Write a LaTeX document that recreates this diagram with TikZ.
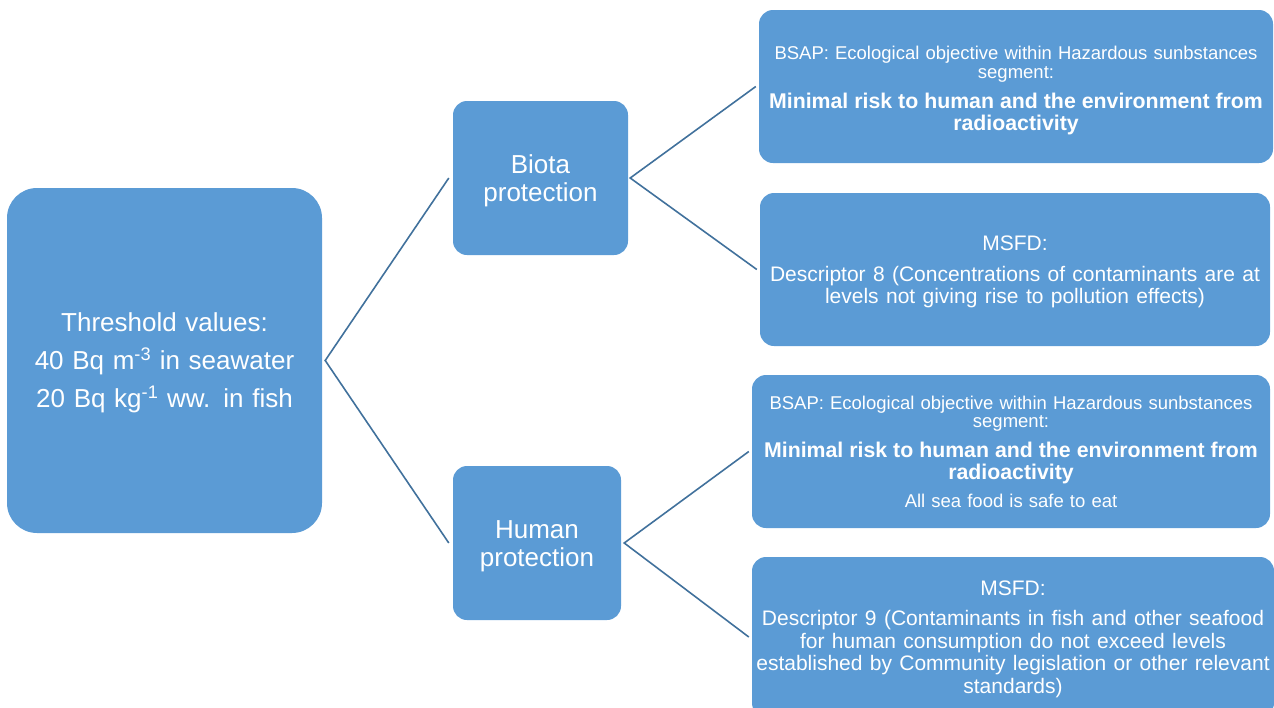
\documentclass[tikz,border=0pt]{standalone}
\usepackage{fontspec}
\setmainfont{Liberation Sans}
\definecolor{boxblue}{HTML}{5B9BD5}
\definecolor{lineblue}{HTML}{41719C}
\newcommand{\smallbsap}{\fontsize{18.5}{18.5}\selectfont\spaceskip=0.33em\relax}
\newcommand{\boldbsap}{\fontsize{21.3}{22}\selectfont\bfseries\spaceskip=0.28em\relax}
\newcommand{\msfdtxt}{\fontsize{21}{22.4}\selectfont\spaceskip=0.35em\relax}
\begin{document}
\begin{tikzpicture}[x=1pt,y=-1pt,
  box/.style={fill=boxblue, text=white, align=center, inner sep=0pt, rounded corners=14pt},
  conn/.style={draw=lineblue, line width=1.6pt}]
\useasboundingbox (0,0) rectangle (1274,707);
\begin{scope}
\clip (0,0) rectangle (1274,707);
\node[box, rounded corners=30pt, minimum width=315pt, minimum height=345pt, text width=300pt,
  font=\fontsize{26}{38}\selectfont] (thr) at (164.5,360.5)
  {\rule{0pt}{23pt}Threshold values:\\40 Bq m\textsuperscript{-3} in seawater\\20 Bq kg\textsuperscript{-1} ww. in fish};
\node[box, minimum width=175pt, minimum height=154pt, text width=170pt,
  font=\fontsize{26}{28}\selectfont] (bio) at (540.5,178) {\rule{0pt}{25pt}Biota\\protection};
\node[box, minimum width=168pt, minimum height=154pt, text width=165pt,
  font=\fontsize{26}{28}\selectfont] (hum) at (537,543) {\rule{0pt}{25pt}Human\\protection};
\node[box, minimum width=514pt, minimum height=153pt, text width=514pt] (b1) at (1016,86.5)
  {{\smallbsap\rule{0pt}{21pt}BSAP: Ecological objective within Hazardous sunbstances\\segment:\par}
   \vspace{8pt}
   {\boldbsap Minimal risk to human and the environment from\\radioactivity\par}};
\node[box, minimum width=510pt, minimum height=153pt, text width=510pt] (b2) at (1015,269.5)
  {{\msfdtxt\rule{0pt}{20pt}MSFD:\par}
   \vspace{8pt}
   {\msfdtxt Descriptor 8 (Concentrations of contaminants are at\\levels not giving rise to pollution effects)\par}};
\node[box, minimum width=518pt, minimum height=153pt, text width=518pt] (b3) at (1011,451.5)
  {{\smallbsap BSAP: Ecological objective within Hazardous sunbstances\\segment:\par}
   \vspace{8pt}
   {\boldbsap Minimal risk to human and the environment from\\radioactivity\par}
   \vspace{9pt}
   {\smallbsap All sea food is safe to eat\par}};
\node[box, minimum width=522pt, minimum height=160pt, text width=522pt] (b4) at (1013,637)
  {{\msfdtxt\rule{0pt}{19pt}MSFD:\par}
   \vspace{8pt}
   {\msfdtxt Descriptor 9 (Contaminants in fish and other seafood\\for human consumption do not exceed levels\\established by Community legislation or other relevant\\standards)\par}};
\end{scope}
\coordinate (t0) at ([xshift=3pt]thr.east);
\coordinate (b0) at ([xshift=2pt]bio.east);
\coordinate (h0) at ([xshift=3pt]hum.east);
\draw[conn] ([xshift=-4pt]bio.west) -- (t0) -- ([xshift=-4pt]hum.west);
\draw[conn] ([xshift=-3pt]b1.west) -- (b0) -- ([xshift=-3pt]b2.west);
\draw[conn] ([xshift=-3pt]b3.west) -- (h0) -- ([xshift=-3pt]b4.west);
\end{tikzpicture}
\end{document}
